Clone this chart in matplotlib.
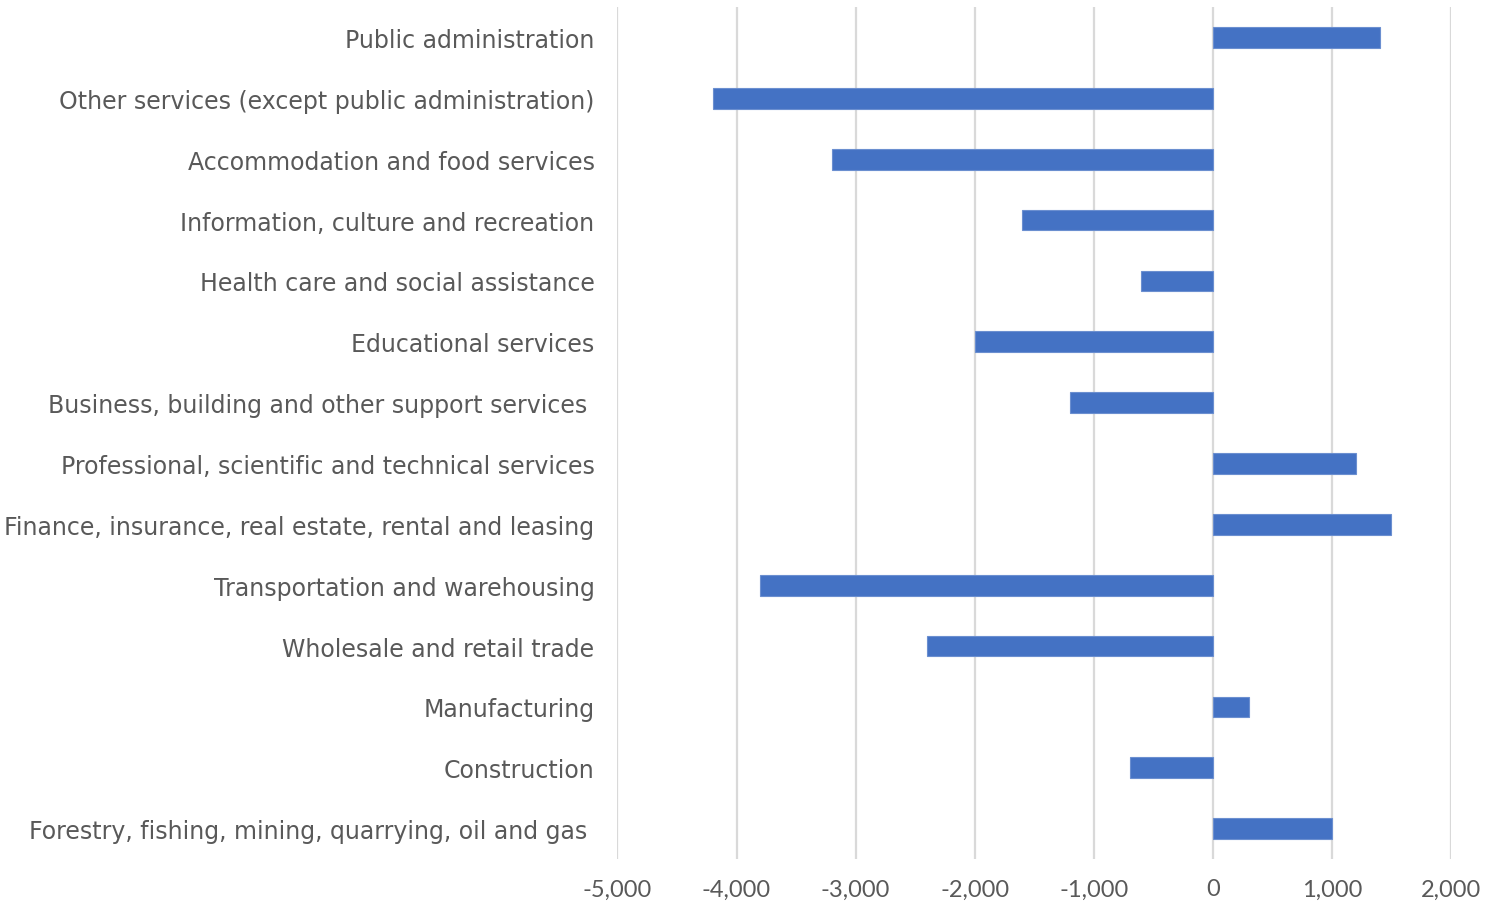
import numpy as np
import matplotlib.pyplot as plt

plt.rcParams['font.family'] = ['Lato', 'DejaVu Sans']

industries = [
    "Forestry, fishing, mining, quarrying, oil and gas ",
    "Construction",
    "Manufacturing",
    "Wholesale and retail trade",
    "Transportation and warehousing",
    "Finance, insurance, real estate, rental and leasing",
    "Professional, scientific and technical services",
    "Business, building and other support services ",
    "Educational services",
    "Health care and social assistance",
    "Information, culture and recreation",
    "Accommodation and food services",
    "Other services (except public administration)",
    "Public administration",
]
change = [1000, -700, 300, -2400, -3800, 1500, 1200, -1200, -2000, -600, -1600, -3200, -4200, 1400]

ticks = np.arange(-5000, 2001, 1000)
text_color = "#595959"

fig = plt.figure(figsize=(15.06, 9.03), dpi=100)
ax = fig.add_axes([0.410, 0.0476, 0.5535, 0.9434])

y = np.arange(len(industries))
ax.barh(y, change, height=0.34, color="#4472C4", edgecolor="#6b8fd0", linewidth=0.8, zorder=3)

ax.set_xlim(-5000, 2000)
ax.set_ylim(-0.5, len(industries) - 0.5)
ax.set_xticks(ticks)
ax.set_xticklabels([f"{t:,}" for t in ticks])
ax.set_yticks(y)
ax.set_yticklabels(industries, family="DejaVu Sans", fontsize=14.7)

ax.grid(axis="x", color="#d9d9d9", linewidth=1.6, zorder=0)
for s in ax.spines.values():
    s.set_visible(False)
ax.tick_params(axis="both", length=0, labelsize=17, labelcolor=text_color)
ax.tick_params(axis="y", pad=16.5)
ax.tick_params(axis="x", pad=14)

fig.savefig("out.png", dpi=100)
